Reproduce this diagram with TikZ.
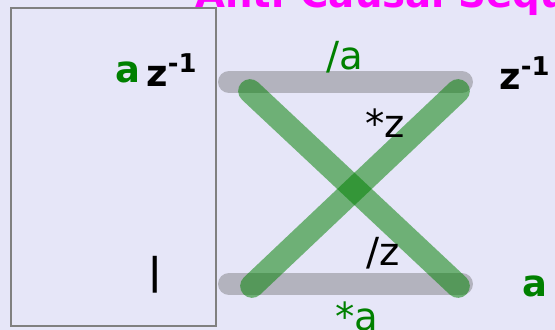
\documentclass[tikz,border=0pt]{standalone}
\usepackage{fontspec}
\setmainfont{DejaVu Sans}
\usepackage{xcolor}
\usetikzlibrary{positioning}
\definecolor{lavbg}{HTML}{E6E6F8}
\definecolor{framegray}{HTML}{808080}
\definecolor{barcol}{HTML}{B3B3BE}
\definecolor{leafgreen}{HTML}{008000}
\definecolor{titlepink}{HTML}{FF00FF}
\tikzset{
  bar/.style={line width=12.5pt,line cap=round,barcol},
  cross/.style={line width=13.5pt,line cap=round,leafgreen,opacity=0.52},
  lbl/.style={font=\fontsize{22}{22}\selectfont,inner sep=0pt},
  hand/.style={font=\fontsize{21}{21}\selectfont\bfseries,inner sep=0pt},
}

\begin{document}
\begin{tikzpicture}[x=0.02cm,y=-0.02cm]
  \useasboundingbox[fill=lavbg] (0,0) rectangle (555,330);
  % title, cut by the page edge
  \node[font=\fontsize{22}{22}\selectfont\bfseries,text=titlepink,anchor=base west,inner sep=0pt]
    (title) at (195,8) {Anti-Causal Sequence};
  % box on the left
  \draw[framegray,line width=1.2pt] (11,8) rectangle (216,326);
  \node[hand,text=leafgreen] (ain) at (128,72) {a};
  \node[hand] (zin) at (172,70) {z\textsuperscript{-1}};
  \node[hand] (one) at (155,275) {|};
  % bar ends
  \coordinate (tl) at (229,82);
  \coordinate (tr) at (462,82);
  \coordinate (bl) at (229,284);
  \coordinate (br) at (462,284);
  % cross ends
  \coordinate (xtl) at (250,91);
  \coordinate (xtr) at (458,91);
  \coordinate (xbl) at (252,286);
  \coordinate (xbr) at (458,286);
  \draw[bar] (tl) -- (tr);
  \draw[bar] (bl) -- (br);
  \draw[cross] (xtl) -- (xbr);
  \draw[cross] (xbl) -- (xtr);
  % labels
  \node[lbl,text=leafgreen] (da) at (345,57) {/a};
  \node[lbl] (sz) at (385,123) {*z};
  \node[lbl] (dz) at (383,253) {/z};
  \node[lbl,text=leafgreen] (sa) at (357,316) {*a};
  \node[hand] (zout) at (525,73) {z\textsuperscript{-1}};
  \node[hand,text=leafgreen,anchor=west] (aout) at (522,286) {a};
\end{tikzpicture}
\end{document}
